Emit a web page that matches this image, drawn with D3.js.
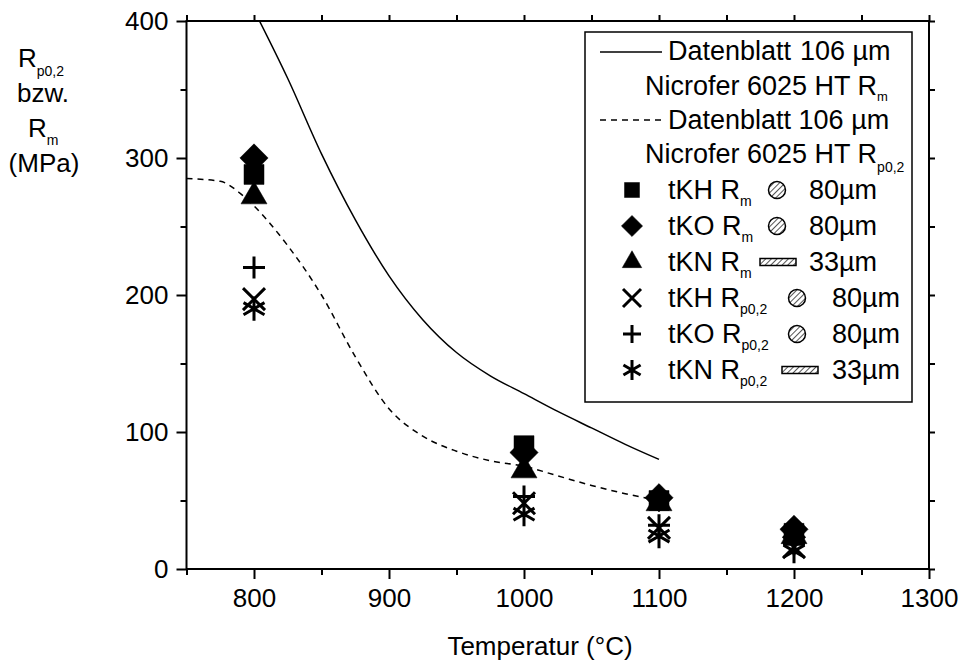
<!DOCTYPE html>
<html>
<head>
<meta charset="utf-8">
<script src="https://cdn.jsdelivr.net/npm/d3@7"></script>
<style>
  body { margin: 0; background: #fff; }
  svg { display: block; font-family: "Liberation Sans", Arial, sans-serif; }
</style>
</head>
<body>
<svg width="960" height="663"></svg>
<script>
// measured test points
const temps = [800, 1000, 1100, 1200];
const tkhRm = [288, 90, 50, 26];
const tkoRm = [300, 85, 52, 29];
const tknRm = [272, 72, 48, 24];
const tkhRp = [197, 48, 30, 16];
const tkoRp = [220, 53, 32, 18];
const tknRp = [190, 40, 24, 13];

// datasheet curves (Nicrofer 6025 HT, 106 µm)
const dsRmTemps = [800, 825, 850, 875, 900, 925, 950, 975, 1000, 1025, 1050, 1075, 1100];
const dsRmValues = [408, 358, 303, 255, 214, 182, 158, 141, 128, 115, 103, 91, 80];
const dsRpTemps = [750, 775, 790, 800, 812, 825, 850, 875, 900, 925, 950, 975, 1000, 1025, 1050, 1075, 1100];
const dsRpValues = [285, 283, 274, 265, 252, 236, 200, 155, 117, 97, 86, 79, 75, 68, 61, 55, 50];

const xMajor = [800, 900, 1000, 1100, 1200, 1300];
const xMinor = [750, 850, 950, 1050, 1150, 1250];
const yMajor = [0, 100, 200, 300, 400];
const yMinor = [50, 150, 250, 350];

const pointSeries = [
    { name: "tKH R", sub: "m", values: tkhRm, mark: "square", fill: "circle", size: "80µm" },
    { name: "tKO R", sub: "m", values: tkoRm, mark: "diamond", fill: "circle", size: "80µm" },
    { name: "tKN R", sub: "m", values: tknRm, mark: "triangle", fill: "rect", size: "33µm" },
    { name: "tKH R", sub: "p0,2", values: tkhRp, mark: "x", fill: "circle", size: "80µm" },
    { name: "tKO R", sub: "p0,2", values: tkoRp, mark: "plus", fill: "circle", size: "80µm" },
    { name: "tKN R", sub: "p0,2", values: tknRp, mark: "star", fill: "rect", size: "33µm" }
];

const svg = d3.select("svg");
const area = { left: 186.5, right: 929, top: 21, bottom: 569 };

const x = d3.scaleLinear().domain([750, 1300]).range([area.left, area.right]);
const y = d3.scaleLinear().domain([0, 400]).range([area.bottom, area.top]);

// hatch pattern
const defs = svg.append("defs");
const pat = defs.append("pattern")
    .attr("id", "hatch")
    .attr("patternUnits", "userSpaceOnUse")
    .attr("width", 4).attr("height", 4)
    .attr("patternTransform", "rotate(45)");
pat.append("rect").attr("width", 4).attr("height", 4).attr("fill", "#fff");
pat.append("line").attr("x1", 0).attr("y1", 0).attr("x2", 0).attr("y2", 4)
    .attr("stroke", "#555").attr("stroke-width", 2);

defs.append("clipPath").attr("id", "plotclip")
    .append("rect")
    .attr("x", area.left).attr("y", area.top)
    .attr("width", area.right - area.left).attr("height", area.bottom - area.top);

function markPath(type, r) {
    const p = d3.path();
    if (type === "square") {
        p.rect(-r, -r, 2 * r, 2 * r);
    } else if (type === "diamond") {
        const d = r * Math.SQRT2;
        p.moveTo(0, -d); p.lineTo(d, 0); p.lineTo(0, d); p.lineTo(-d, 0); p.closePath();
    } else if (type === "triangle") {
        const w = r * 1.3;
        const h = w * Math.sqrt(3);
        p.moveTo(0, -h * 2 / 3); p.lineTo(w, h / 3); p.lineTo(-w, h / 3); p.closePath();
    } else if (type === "plus") {
        p.moveTo(-r, 0); p.lineTo(r, 0); p.moveTo(0, -r); p.lineTo(0, r);
    } else if (type === "x") {
        p.moveTo(-r, -r); p.lineTo(r, r); p.moveTo(-r, r); p.lineTo(r, -r);
    } else if (type === "star") {
        p.moveTo(0, -r * 1.1); p.lineTo(0, r * 1.1);
        const a = Math.PI / 6;
        p.moveTo(-r * Math.cos(a) * 1.1, -r * Math.sin(a) * 1.1);
        p.lineTo(r * Math.cos(a) * 1.1, r * Math.sin(a) * 1.1);
        p.moveTo(-r * Math.cos(a) * 1.1, r * Math.sin(a) * 1.1);
        p.lineTo(r * Math.cos(a) * 1.1, -r * Math.sin(a) * 1.1);
    }
    return p.toString();
}

function isFilled(type) {
    return type === "square" || type === "diamond" || type === "triangle";
}

// axes
function addAxis(axis, transform) {
    const g = svg.append("g").attr("transform", transform).call(axis);
    g.select(".domain").remove();
    g.selectAll(".tick line").attr("stroke", "#000").attr("stroke-width", 2);
    g.selectAll(".tick text").attr("font-size", 26).attr("fill", "#000")
        .attr("font-family", "Liberation Sans, Arial, sans-serif");
    return g;
}

addAxis(d3.axisBottom(x).tickValues(xMajor).tickSize(10).tickPadding(10).tickFormat(d3.format("d")),
    `translate(0,${area.bottom})`);
addAxis(d3.axisBottom(x).tickValues(xMinor).tickSize(6).tickFormat(""),
    `translate(0,${area.bottom})`);
addAxis(d3.axisLeft(y).tickValues(yMajor).tickSize(10).tickPadding(8).tickFormat(d3.format("d")),
    `translate(${area.left},0)`);
addAxis(d3.axisLeft(y).tickValues(yMinor).tickSize(6).tickFormat(""),
    `translate(${area.left},0)`);
addAxis(d3.axisTop(x).tickValues(xMajor.concat(xMinor)).tickSize(6).tickFormat(""),
    `translate(0,${area.top})`);
addAxis(d3.axisRight(y).tickValues(yMajor.concat(yMinor)).tickSize(6).tickFormat(""),
    `translate(${area.right},0)`);

// frame
svg.append("rect")
    .attr("x", area.left).attr("y", area.top)
    .attr("width", area.right - area.left).attr("height", area.bottom - area.top)
    .attr("fill", "none").attr("stroke", "#000").attr("stroke-width", 2);

// datasheet curves
const line = d3.line().x((d) => x(d[0])).y((d) => y(d[1])).curve(d3.curveMonotoneX);

const plot = svg.append("g").attr("clip-path", "url(#plotclip)");
plot.append("path")
    .attr("d", line(d3.zip(dsRmTemps, dsRmValues)))
    .attr("fill", "none").attr("stroke", "#000").attr("stroke-width", 1.5);
plot.append("path")
    .attr("d", line(d3.zip(dsRpTemps, dsRpValues)))
    .attr("fill", "none").attr("stroke", "#000").attr("stroke-width", 1.5)
    .attr("stroke-dasharray", "6,5");

// points
for (const s of pointSeries) {
    svg.append("g")
        .selectAll("path")
        .data(d3.zip(temps, s.values))
        .enter()
        .append("path")
        .attr("transform", (d) => `translate(${x(d[0])},${y(d[1])})`)
        .attr("d", markPath(s.mark, isFilled(s.mark) ? 10 : 11))
        .attr("fill", isFilled(s.mark) ? "#000" : "none")
        .attr("stroke", "#000")
        .attr("stroke-width", isFilled(s.mark) ? 0.5 : 3);
}

// y axis title
const yt = svg.append("g").attr("font-size", 26).attr("fill", "#000");
yt.append("text").attr("x", 18).attr("y", 67).text("R")
    .append("tspan").attr("font-size", 14).attr("dy", 9).text("p0,2");
yt.append("text").attr("x", 43).attr("y", 102).attr("text-anchor", "middle").text("bzw.");
yt.append("text").attr("x", 28).attr("y", 137).text("R")
    .append("tspan").attr("font-size", 14).attr("dy", 8).text("m");
yt.append("text").attr("x", 44).attr("y", 172).attr("text-anchor", "middle").text("(MPa)");

// x axis title
svg.append("text")
    .attr("x", 540).attr("y", 655)
    .attr("text-anchor", "middle")
    .attr("font-size", 26)
    .text("Temperatur (°C)");

// legend
const lg = svg.append("g").attr("font-size", 27).attr("fill", "#000");
lg.append("rect")
    .attr("x", 585).attr("y", 32).attr("width", 327).attr("height", 370)
    .attr("fill", "#fff").attr("stroke", "#000").attr("stroke-width", 1.5);

lg.append("line").attr("x1", 600).attr("x2", 662).attr("y1", 52).attr("y2", 52)
    .attr("stroke", "#000").attr("stroke-width", 1.5);
lg.append("text").attr("x", 668).attr("y", 60).text("Datenblatt");
lg.append("text").attr("x", 800).attr("y", 60).text("106 µm");
lg.append("text").attr("x", 645).attr("y", 95).text("Nicrofer 6025 HT R")
    .append("tspan").attr("font-size", 13).attr("dy", 6).text("m");

lg.append("line").attr("x1", 600).attr("x2", 662).attr("y1", 120).attr("y2", 120)
    .attr("stroke", "#000").attr("stroke-width", 1.5).attr("stroke-dasharray", "6,5");
lg.append("text").attr("x", 668).attr("y", 129).text("Datenblatt 106 µm");
lg.append("text").attr("x", 645).attr("y", 163).text("Nicrofer 6025 HT R")
    .append("tspan").attr("font-size", 14).attr("dy", 9).text("p0,2");

pointSeries.forEach((s, i) => {
    const cy = 190 + i * 36;
    const filled = isFilled(s.mark);
    lg.append("path")
        .attr("transform", `translate(632,${cy})`)
        .attr("d", markPath(s.mark, filled ? 7.5 : 9))
        .attr("fill", filled ? "#000" : "none")
        .attr("stroke", "#000")
        .attr("stroke-width", filled ? 0.5 : 3);
    const t = lg.append("text").attr("x", 668).attr("y", cy + 9).text(s.name);
    t.append("tspan").attr("font-size", 14).attr("dy", 7).text(s.sub);
    const wide = s.sub.length > 1;
    if (s.fill === "circle") {
        lg.append("circle")
            .attr("cx", wide ? 797 : 777).attr("cy", cy)
            .attr("r", 8.5)
            .attr("fill", "url(#hatch)").attr("stroke", "#000").attr("stroke-width", 1.5);
    } else {
        lg.append("rect")
            .attr("x", wide ? 782 : 760).attr("y", cy - 3.5)
            .attr("width", 36).attr("height", 7)
            .attr("fill", "url(#hatch)").attr("stroke", "#000").attr("stroke-width", 1.5);
    }
    lg.append("text").attr("x", wide ? 832 : 809).attr("y", cy + 9).text(s.size);
});
</script>
</body>
</html>
